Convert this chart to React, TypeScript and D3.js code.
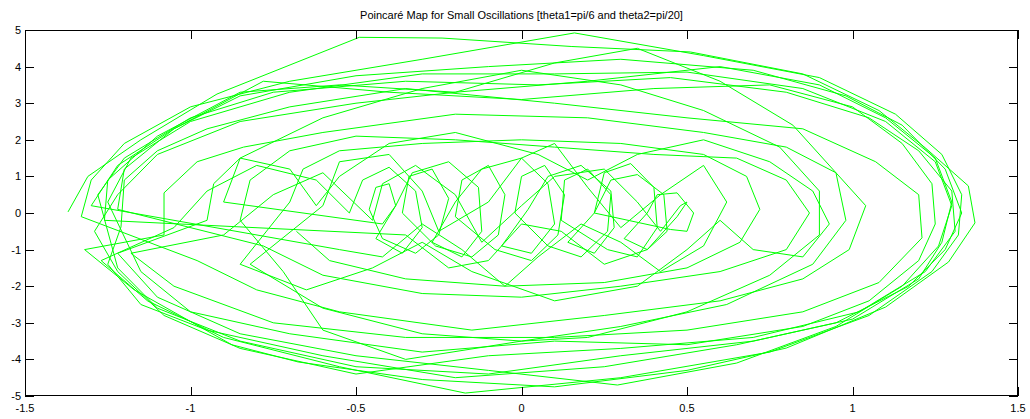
import React from 'react';
import * as d3 from 'd3';

const title = 'Poincaré Map for Small Oscillations [theta1=pi/6 and theta2=pi/20]';
const xTicks = [-1.5, -1, -0.5, 0, 0.5, 1, 1.5];
const yTicks = [-5, -4, -3, -2, -1, 0, 1, 2, 3, 4, 5];

// [theta, omega] points, loop by loop
const outerA = [
  [-1.37, 0.03], [-1.31, 1.0], [-1.15, 2.0], [-0.92, 3.25], [-0.49, 4.8], [-0.24, 4.78], [0.15, 4.55],
  [0.51, 4.4], [0.85, 3.8], [1.08, 2.8], [1.22, 1.78], [1.35, 0.74], [1.37, -0.27], [1.29, -1.34],
  [1.1, -2.57], [0.8, -3.69], [0.5, -4.3], [0.1, -4.75], [-0.3, -4.55], [-0.675, -4.07], [-0.875, -3.6],
  [-1.17, -2.1], [-1.32, -1.0],
];
const middleA = [
  [-1.08, -0.6], [-1.08, 0.55], [-0.98, 1.4], [-0.84, 1.8], [-0.6, 2.2], [-0.2, 2.7], [0.2, 2.6],
  [0.55, 2.2], [0.8, 1.8], [0.95, 1.1], [1.04, 0.2], [0.99, -1.0], [0.85, -1.8], [0.6, -2.4],
  [0.25, -2.8], [-0.15, -3.2], [-0.55, -2.7], [-0.8, -2.1], [-0.98, -1.3],
];
const outerB = [
  [-1.33, -0.1], [-1.3, 0.9], [-1.2, 1.9], [-1.0, 2.9], [-0.7, 3.6], [-0.3, 4.2], [0.16, 4.92],
  [0.55, 4.3], [0.9, 3.7], [1.13, 2.7], [1.27, 1.6], [1.33, 0.5], [1.32, -0.6], [1.24, -1.6],
  [1.05, -2.8], [0.75, -3.8], [0.3, -4.5], [-0.17, -4.92], [-0.55, -4.2], [-0.9, -3.4], [-1.13, -2.4],
  [-1.27, -1.3],
];
// small fast loops drifting to the right, then back to the left
const driftRight = [
  [-1.05, -0.4], [-0.95, 0.6], [-0.8, 1.3], [-0.62, 0.9],
  [-0.52, 0.0], [-0.48, 0.9], [-0.4, 1.25], [-0.32, 0.6], [-0.3, -0.4], [-0.36, -1.1], [-0.44, -0.7],
  [-0.38, 0.2], [-0.33, 1.1], [-0.22, 1.4], [-0.13, 0.7], [-0.12, -0.5], [-0.18, -1.2], [-0.27, -0.8],
  [-0.2, 0.3], [-0.12, 1.2], [0.0, 1.5], [0.08, 0.8], [0.1, -0.3], [0.03, -1.1], [-0.06, -0.9],
  [0.02, 0.1], [0.08, 1.0], [0.18, 1.3], [0.27, 0.6], [0.28, -0.4], [0.22, -1.1], [0.14, -0.8],
  [0.22, 0.0], [0.27, 0.9], [0.35, 1.05], [0.43, 0.5], [0.44, -0.5], [0.38, -1.0], [0.31, -0.7],
  [0.38, 0.0], [0.41, 0.5], [0.47, 0.55], [0.52, 0.0], [0.5, -0.5], [0.45, -0.45],
];
const driftLeft = [
  [0.22, 0.0], [0.25, 1.1], [0.33, 1.35], [0.4, 0.7], [0.41, -0.4], [0.35, -1.2], [0.26, -1.0],
  [0.12, -0.2], [0.13, 0.9], [0.2, 1.2], [0.27, 0.5], [0.26, -0.5], [0.18, -1.2], [0.08, -0.9],
  [-0.02, 0.0], [0.0, 1.0], [0.07, 1.3], [0.13, 0.5], [0.11, -0.6], [0.03, -1.3], [-0.08, -1.0],
  [-0.2, -0.1], [-0.18, 0.9], [-0.1, 1.3], [-0.05, 0.5], [-0.07, -0.6], [-0.15, -1.2], [-0.26, -0.9],
  [-0.36, 0.0], [-0.34, 1.0], [-0.27, 1.2], [-0.22, 0.4], [-0.25, -0.6], [-0.32, -1.1], [-0.42, -0.7],
  [-0.46, 0.1], [-0.44, 0.7], [-0.4, 0.8], [-0.38, 0.2], [-0.42, -0.3],
];
const tiltA = [
  [-0.9, 0.3], [-0.85, 1.5], [-0.6, 2.6], [-0.3, 3.4], [0.0, 3.9], [0.3, 3.5], [0.55, 2.8],
  [0.78, 1.8], [0.9, 0.6], [0.9, -0.6], [0.75, -1.7], [0.5, -2.7], [0.2, -3.4], [0.0, -3.5],
  [-0.3, -3.3], [-0.6, -2.6], [-0.82, -1.4],
];
const wiggleA = [
  [-0.6, 0.2], [-0.55, 1.4], [-0.4, 1.6], [-0.3, 0.6], [-0.25, -0.5], [-0.1, 0.3], [0.0, 1.5],
  [0.1, 1.9], [0.2, 0.7], [0.3, -0.4], [0.42, 0.5], [0.55, 1.3], [0.62, 0.3], [0.55, -0.9],
  [0.42, -1.6], [0.3, -0.8], [0.18, -0.3], [0.05, -1.2], [-0.05, -2.0], [-0.18, -1.0], [-0.3, -0.3],
  [-0.42, -1.2], [-0.55, -1.0],
];
const outerC = [
  [-1.3, 0.2], [-1.22, 1.3], [-1.05, 2.3], [-0.85, 3.2], [-0.5, 3.75], [-0.1, 4.0], [0.3, 4.2],
  [0.7, 3.9], [0.98, 3.2], [1.15, 2.4], [1.28, 1.2], [1.33, 0.0], [1.28, -1.0], [1.17, -2.0],
  [0.95, -3.0], [0.65, -3.6], [0.25, -4.2], [-0.2, -4.5], [-0.6, -3.9], [-0.95, -3.2], [-1.15, -2.5],
  [-1.25, -1.4],
];
const middleB = [
  [-1.21, -0.38], [-1.2, 0.9], [-1.1, 1.7], [-0.95, 2.3], [-0.7, 2.9], [-0.35, 3.4], [0.1, 3.0],
  [0.5, 2.6], [0.85, 2.3], [1.07, 1.4], [1.2, 0.5], [1.21, -0.68], [1.08, -1.9], [0.85, -2.7],
  [0.5, -3.2], [0.1, -3.4], [-0.35, -3.4], [-0.75, -3.0], [-1.05, -2.0], [-1.18, -1.1],
];
const wiggleB = [
  [-0.9, -0.6], [-0.75, 0.5], [-0.6, 1.1],
  [-0.45, -0.2], [-0.42, 0.8], [-0.32, 1.3], [-0.2, 0.5], [-0.12, -0.8], [0.0, 0.2], [0.1, 1.0],
  [0.25, 1.2], [0.35, 0.3], [0.42, -0.5], [0.48, 0.2], [0.5, 0.3], [0.47, -0.1], [0.38, -1.0],
  [0.25, -1.4], [0.12, -0.5], [0.0, -0.3], [-0.1, -1.3], [-0.22, -1.5], [-0.35, -0.6],
];
const outerD = [
  [-1.26, -0.2], [-1.25, 0.9], [-1.1, 2.1], [-0.85, 3.3], [-0.55, 3.5], [-0.2, 3.3], [0.2, 3.6],
  [0.6, 4.0], [0.9, 3.5], [1.1, 2.6], [1.25, 1.5], [1.3, 0.3], [1.27, -0.8], [1.2, -1.8],
  [1.0, -2.9], [0.7, -3.5], [0.3, -3.9], [-0.1, -4.4], [-0.5, -4.2], [-0.85, -3.5], [-1.1, -2.6],
  [-1.22, -1.5],
];
const outerF = [
  [-1.28, 0.5], [-1.2, 1.5], [-1.0, 2.6], [-0.75, 3.3], [-0.35, 3.6], [0.05, 3.5], [0.45, 3.7],
  [0.8, 3.3], [1.05, 2.6], [1.2, 1.7], [1.3, 0.6], [1.31, -0.5], [1.22, -1.6], [1.02, -2.7],
  [0.7, -3.4], [0.3, -3.7], [-0.1, -3.9], [-0.5, -4.4], [-0.85, -3.7], [-1.08, -2.8], [-1.22, -1.6],
  [-1.29, -0.5],
];
const tiltB = [
  [-1.22, 0.5], [-1.1, 1.6], [-0.85, 2.5], [-0.5, 3.0], [-0.2, 3.3], [0.1, 4.1], [0.35, 4.5],
  [0.6, 3.6], [0.82, 2.4], [0.95, 1.1], [0.98, -0.2], [0.88, -1.4], [0.62, -2.5], [0.3, -3.1],
  [0.0, -3.5], [-0.35, -4.0], [-0.6, -3.2], [-0.72, -1.6],
];
const middleC = [
  [-0.85, -0.2], [-0.82, 0.9], [-0.7, 1.7], [-0.5, 2.1], [-0.2, 2.0], [0.1, 1.8], [0.4, 1.6],
  [0.65, 1.5], [0.8, 0.9], [0.87, 0.0], [0.8, -1.0], [0.6, -1.6], [0.3, -2.0], [0.0, -2.3],
  [-0.3, -2.2], [-0.6, -1.7], [-0.78, -0.9],
];
const outerE = [
  [-1.22, 0.1], [-1.2, 1.2], [-1.05, 2.3], [-0.78, 3.6], [-0.4, 3.3], [0.0, 3.1], [0.4, 3.4],
  [0.75, 3.5], [1.0, 2.9], [1.15, 1.9], [1.24, 0.8], [1.25, -0.3], [1.2, -1.3], [1.05, -2.4],
  [0.85, -3.1], [0.5, -3.6], [0.1, -3.5], [-0.3, -3.8], [-0.7, -3.3], [-1.0, -2.7], [-1.15, -1.6],
];
const outerG = [
  [-1.25, 0.3], [-1.18, 1.5], [-1.0, 2.5], [-0.7, 3.3], [-0.3, 3.8], [0.1, 3.8], [0.5, 3.85],
  [0.85, 3.4], [1.1, 2.5], [1.25, 1.4], [1.3, 0.2], [1.26, -0.9], [1.15, -2.0], [0.95, -3.1],
  [0.65, -4.1], [0.29, -4.7], [-0.1, -4.3], [-0.5, -3.9], [-0.85, -3.3], [-1.1, -2.3], [-1.22, -1.1],
];
const wiggleC = [
  [-0.95, -0.2], [-0.93, 0.8], [-0.85, 1.5], [-0.7, 1.2], [-0.62, 0.2], [-0.55, 1.0], [-0.4, 1.9],
  [-0.2, 2.2], [0.05, 1.6], [0.2, 0.9], [0.35, 1.6], [0.55, 2.0], [0.75, 1.4], [0.88, 0.6],
  [0.93, -0.3], [0.85, -1.2], [0.7, -1.0], [0.6, -0.2], [0.5, -1.0], [0.35, -2.0], [0.1, -2.4],
  [-0.15, -1.6], [-0.3, -0.8], [-0.45, -1.5], [-0.65, -2.1], [-0.85, -1.4],
];
const middleD = [
  [-0.7, 0.3], [-0.66, 1.2], [-0.55, 1.7], [-0.3, 1.9], [0.0, 2.0], [0.3, 1.9], [0.55, 1.6],
  [0.68, 1.0], [0.72, 0.1], [0.66, -0.8], [0.5, -1.5], [0.25, -1.9], [-0.05, -2.0], [-0.35, -1.8],
  [-0.58, -1.3], [-0.68, -0.5],
];

const trajectory = [
  outerA, middleA, outerB, driftRight, driftLeft, tiltA, wiggleA, outerC, middleB, wiggleB,
  outerD, outerF, tiltB, middleC, outerE, outerG, wiggleC, middleD,
].flat();

const W = 1030;
const H = 419;
const margin = { left: 25, right: 12, top: 30, bottom: 23 };

export default function App() {
  const x = d3.scaleLinear().domain([-1.5, 1.5]).range([margin.left, W - margin.right]);
  const y = d3.scaleLinear().domain([-5, 5]).range([H - margin.bottom, margin.top]);
  const line = d3.line<number[]>().x((d) => x(d[0])).y((d) => y(d[1]));
  const x0 = margin.left;
  const x1 = W - margin.right;
  const y0 = margin.top;
  const y1 = H - margin.bottom;
  const font = '"Liberation Sans", Arial, sans-serif';

  return (
    <div style={{ position: 'absolute', left: 0, top: 0 }}>
      <svg width={W} height={H} style={{ display: 'block', background: '#fff' }}>
        <defs>
          <clipPath id="plot">
            <rect x={x0} y={y0} width={x1 - x0} height={y1 - y0} />
          </clipPath>
        </defs>
        <path d={line(trajectory) || ''} fill="none" stroke="#00ff00" strokeWidth={1} clipPath="url(#plot)" />

        {/* box and ticks */}
        <rect x={x0 + 0.5} y={y0 + 0.5} width={x1 - x0 - 1} height={y1 - y0 - 1} fill="none" stroke="#000" />
        {xTicks.map((t) => (
          <g key={'x' + t}>
            <line x1={Math.round(x(t)) + 0.5} x2={Math.round(x(t)) + 0.5} y1={y1} y2={y1 - 9} stroke="#000" />
            <line x1={Math.round(x(t)) + 0.5} x2={Math.round(x(t)) + 0.5} y1={y0} y2={y0 + 9} stroke="#000" />
            <text x={x(t)} y={y1 + 16} textAnchor="middle" fontFamily={font} fontSize={11}>
              {t}
            </text>
          </g>
        ))}
        {yTicks.map((t) => (
          <g key={'y' + t}>
            <line x1={x0} x2={x0 + 9} y1={Math.round(y(t)) + 0.5} y2={Math.round(y(t)) + 0.5} stroke="#000" />
            <line x1={x1} x2={x1 - 9} y1={Math.round(y(t)) + 0.5} y2={Math.round(y(t)) + 0.5} stroke="#000" />
            <text x={x0 - 4} y={y(t) + 4} textAnchor="end" fontFamily={font} fontSize={11}>
              {t}
            </text>
          </g>
        ))}
        <text x={(x0 + x1) / 2} y={19} textAnchor="middle" fontFamily={font} fontSize={11}>
          {title}
        </text>
      </svg>
    </div>
  );
}
